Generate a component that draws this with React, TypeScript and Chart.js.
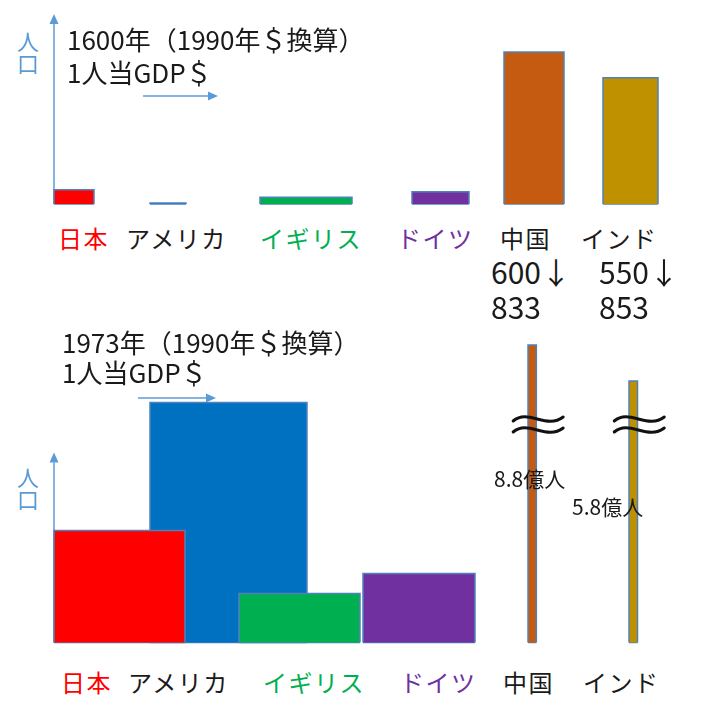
import { useEffect, useRef } from "react";
import { Chart, registerables } from "chart.js";

Chart.register(...registerables);

const COUNTRIES = ["日本", "アメリカ", "イギリス", "ドイツ", "中国", "インド"];

// 1600: GDP per person (1990 $) and population (millions)
const GDP_1600 = [400, 360, 920, 570, 600, 550];
const POP_1600 = [15, 1, 7, 13, 160, 133];

// 1973
const GDP_1973 = [13100, 15700, 12100, 11200, 833, 853];
const POP_1973 = [112, 240, 49, 69, 880, 580];
const BROKEN_1973 = [false, false, false, false, true, true];

// where each bar starts along the GDP axis
const LEFT_1600 = [0, 960, 2060, 3580, 4500, 5490];
const LEFT_1973 = [0, 9600, 18500, 30900, 47400, 57500];

// axis break for the very tall bars
const BREAK_AT = 218;
const BREAK_RATIO = 0.12;

const BAR_COLORS = ["#FF0000", "#0070C0", "#00B050", "#7030A0", "#C55A11", "#BF9000"];
const LABEL_COLORS = ["#FF0000", "#1a1a1a", "#00B050", "#7030A0", "#1a1a1a", "#1a1a1a"];
const BORDER = "#4F81BD";
const AXIS = "#5B9BD5";
const FONT = "'Noto Sans CJK JP', 'Noto Sans', sans-serif";

function drawArrow(ctx: CanvasRenderingContext2D, x1: number, y1: number, x2: number, y2: number) {
  const ang = Math.atan2(y2 - y1, x2 - x1);
  const head = 10;
  const half = 4.5;
  const c = Math.cos(ang);
  const s = Math.sin(ang);
  ctx.save();
  ctx.strokeStyle = AXIS;
  ctx.fillStyle = AXIS;
  ctx.lineWidth = 1.5;
  ctx.beginPath();
  ctx.moveTo(x1, y1);
  ctx.lineTo(x2 - head * c, y2 - head * s);
  ctx.stroke();
  ctx.beginPath();
  ctx.moveTo(x2, y2);
  ctx.lineTo(x2 - head * c + half * s, y2 - head * s - half * c);
  ctx.lineTo(x2 - head * c - half * s, y2 - head * s + half * c);
  ctx.closePath();
  ctx.fill();
  ctx.restore();
}

function drawBreak(ctx: CanvasRenderingContext2D, cx: number, cy: number) {
  ctx.save();
  ctx.strokeStyle = "#111";
  ctx.lineWidth = 3;
  ctx.lineCap = "round";
  for (const dy of [-5.5, 5.5]) {
    const y = cy + dy;
    ctx.beginPath();
    ctx.moveTo(cx - 25, y + 2);
    ctx.bezierCurveTo(cx - 10, y - 11, cx + 8, y + 11, cx + 25, y - 2);
    ctx.stroke();
  }
  ctx.restore();
}

const decorPlugin = {
  id: "decor",
  beforeDatasetsDraw(chart: any, _args: any, opts: any) {
    const { ctx, scales } = chart;
    const x0 = scales.x.getPixelForValue(0);
    drawArrow(ctx, x0, scales.y.getPixelForValue(0), x0, scales.y.getPixelForValue(opts.axisTop));
  },
  afterDatasetsDraw(chart: any, _args: any, opts: any) {
    const { ctx, scales } = chart;
    const [ax1, ax2, ay] = opts.gdpArrow;
    drawArrow(ctx, ax1, ay, ax2, ay);
    (opts.broken || []).forEach((b: boolean, i: number) => {
      if (!b) return;
      const cx = scales.x.getPixelForValue(opts.left[i] + opts.gdp[i] / 2) + 6;
      drawBreak(ctx, cx, scales.y.getPixelForValue(BREAK_AT));
    });
  },
};

interface RectChartProps {
  gdp: number[];
  pop: number[];
  left: number[];
  broken?: boolean[];
  top: number;
  height: number;
  origin: [number, number];
  pxPer: [number, number];
  axisTop: number;
  gdpArrow: [number, number, number];
}

function RectChart({ gdp, pop, left, broken, top, height, origin, pxPer, axisTop, gdpArrow }: RectChartProps) {
  const canvasRef = useRef<HTMLCanvasElement>(null);

  useEffect(() => {
    if (!canvasRef.current) return;
    const ctx = canvasRef.current.getContext("2d");
    if (!ctx) return;

    const shown = (v: number, i: number) =>
      broken && broken[i] && v > BREAK_AT ? BREAK_AT + (v - BREAK_AT) * BREAK_RATIO : v;

    // each block: filled outline (left, top, right sides) + its bottom edge
    const datasets: any[] = [];
    COUNTRIES.forEach((name, i) => {
      const x0 = left[i];
      const x1 = left[i] + gdp[i];
      const h = shown(pop[i], i);
      datasets.push({
        label: name,
        data: [
          { x: x0, y: 0 },
          { x: x0, y: h },
          { x: x1, y: h },
          { x: x1, y: 0 },
        ],
        backgroundColor: BAR_COLORS[i],
        borderColor: BORDER,
        borderWidth: 1.5,
        pointRadius: 0,
        tension: 0,
        fill: "origin",
        order: pop[i], // taller blocks sit behind
      });
      datasets.push({
        label: name + " base",
        data: [
          { x: x0, y: 0 },
          { x: x1, y: 0 },
        ],
        borderColor: BORDER,
        borderWidth: 1.5,
        pointRadius: 0,
        fill: false,
        order: pop[i],
      });
    });

    const W = 701;
    const chart = new Chart(ctx, {
      type: "line",
      data: { datasets },
      options: {
        responsive: true,
        maintainAspectRatio: false,
        animation: false,
        events: [],
        layout: { padding: 0 },
        scales: {
          x: {
            type: "linear",
            display: false,
            min: -origin[0] / pxPer[0],
            max: (W - origin[0]) / pxPer[0],
          },
          y: {
            type: "linear",
            display: false,
            min: -(height - origin[1]) / pxPer[1],
            max: origin[1] / pxPer[1],
          },
        },
        plugins: {
          legend: { display: false },
          tooltip: { enabled: false },
          decor: { axisTop, gdpArrow, broken, left, gdp },
        } as any,
      },
      plugins: [decorPlugin],
    });

    return () => chart.destroy();
  }, []);

  return (
    <div style={{ position: "absolute", left: 0, top, width: 701, height }}>
      <canvas ref={canvasRef} />
    </div>
  );
}

function Txt({ x, y, size, color = "#1a1a1a", children, vertical = false, spacing = 0 }: any) {
  return (
    <div
      style={{
        position: "absolute",
        left: x,
        top: y,
        fontSize: size,
        lineHeight: 1,
        color,
        letterSpacing: spacing,
        whiteSpace: "nowrap",
        writingMode: vertical ? "vertical-rl" : undefined,
      }}
    >
      {children}
    </div>
  );
}

const LABEL_X_1600 = [58, 126, 260, 397, 500, 581];
const LABEL_X_1973 = [61, 128, 263, 400, 503, 583];

export default function App() {
  return (
    <div
      style={{
        position: "fixed",
        left: 0,
        top: 0,
        width: 701,
        height: 716,
        background: "#fff",
        fontFamily: FONT,
        overflow: "hidden",
      }}
    >
      <RectChart
        gdp={GDP_1600}
        pop={POP_1600}
        left={LEFT_1600}
        top={0}
        height={216}
        origin={[54, 204]}
        pxPer={[0.1, 0.95]}
        axisTop={200}
        gdpArrow={[143, 218, 96]}
      />
      <RectChart
        gdp={GDP_1973}
        pop={POP_1973}
        left={LEFT_1973}
        broken={BROKEN_1973}
        top={320}
        height={340}
        origin={[54, 322.5]}
        pxPer={[0.01, 1]}
        axisTop={190}
        gdpArrow={[138, 216, 78]}
      />

      <Txt x={17} y={31} size={22} color={AXIS} vertical>人口</Txt>
      <Txt x={67} y={26} size={26}>1600年（1990年＄換算）</Txt>
      <Txt x={67} y={59} size={26}>1人当GDP＄</Txt>
      {COUNTRIES.map((c, i) => (
        <Txt key={"a" + c} x={LABEL_X_1600[i]} y={226} size={24} spacing={1.5} color={LABEL_COLORS[i]}>{c}</Txt>
      ))}
      <Txt x={491} y={256} size={30}>600↓</Txt>
      <Txt x={491} y={291} size={30}>833</Txt>
      <Txt x={599} y={256} size={30}>550↓</Txt>
      <Txt x={599} y={291} size={30}>853</Txt>

      <Txt x={62} y={329} size={26}>1973年（1990年＄換算）</Txt>
      <Txt x={62} y={359} size={26}>1人当GDP＄</Txt>
      <Txt x={17} y={467} size={22} color={AXIS} vertical>人口</Txt>
      <Txt x={494} y={468} size={21}>8.8億人</Txt>
      <Txt x={572} y={496} size={21}>5.8億人</Txt>
      {COUNTRIES.map((c, i) => (
        <Txt key={"b" + c} x={LABEL_X_1973[i]} y={670} size={24} spacing={1.5} color={LABEL_COLORS[i]}>{c}</Txt>
      ))}
    </div>
  );
}
